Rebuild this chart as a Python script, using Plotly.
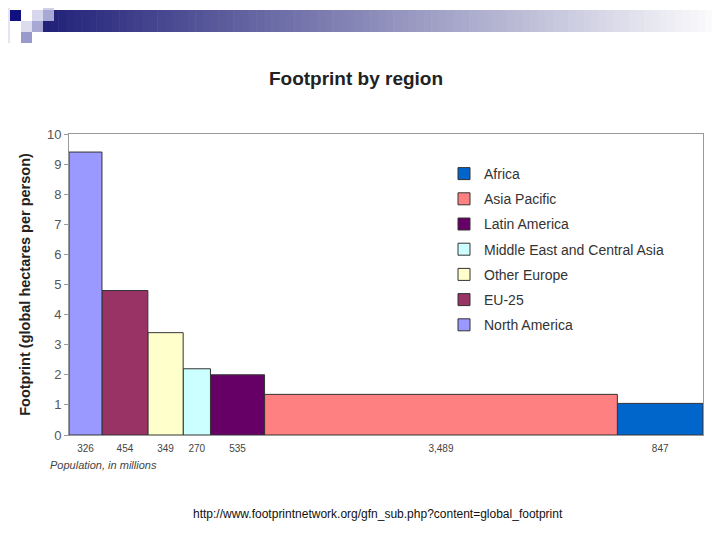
import plotly.graph_objects as go

# data
regions = ["North America", "EU-25", "Other Europe", "Middle East and Central Asia",
           "Latin America", "Asia Pacific", "Africa"]
population = [326, 454, 349, 270, 535, 3489, 847]   # millions
footprint = [9.4, 4.8, 3.4, 2.2, 2.0, 1.35, 1.05]  # global hectares per person
colors = ["#9999ff", "#993366", "#ffffcc", "#ccffff", "#660066", "#ff8080", "#0066cc"]

# the page body has an 8px margin, so the figure sits 8px right/down
OFF = 8

# bar centres from the cumulative population
centers = []
left = 0
for p in population:
    centers.append(left + p / 2)
    left += p
total = left

fig = go.Figure()
# added in reverse so the legend lists Africa first
for name, c, w, h, col in reversed(list(zip(regions, centers, population, footprint, colors))):
    fig.add_trace(go.Bar(
        x=[c], y=[h], width=[w], name=name, legendgroup=name,
        marker=dict(color=col, line=dict(color="#333333", width=1)),
    ))

fig.update_layout(
    width=720, height=540,
    margin=dict(l=69 - OFF, r=720 - 703 + OFF, t=134 - OFF, b=540 - 435 + OFF),
    paper_bgcolor="white", plot_bgcolor="white",
    font=dict(family="Liberation Sans, Arial, sans-serif", color="#333333"),
    title=dict(text="<b>Footprint by region</b>", x=(356 - OFF) / 720, xanchor="center",
               y=1 - (78 - OFF) / 540, yanchor="middle", yref="container",
               font=dict(size=19, color="#222222")),
    showlegend=True,
    legend=dict(x=(444 - 69) / 634, y=(435 - 158) / 301, xanchor="left", yanchor="top",
                traceorder="grouped", tracegroupgap=4,
                font=dict(size=14, color="#333333"), bgcolor="rgba(0,0,0,0)"),
    barmode="overlay",
)
fig.update_xaxes(
    range=[0, total], tickmode="array", tickvals=centers,
    ticktext=[f"{p:,}" for p in population], ticks="outside", ticklen=4,
    tickcolor="rgba(0,0,0,0)",
    tickfont=dict(size=10, color="#444444"),
    showline=True, linecolor="#999999", mirror=True, showgrid=False, zeroline=False,
)
fig.update_yaxes(
    range=[0, 10], dtick=1, ticks="outside", ticklen=4, tickcolor="#999999",
    tickfont=dict(size=13, color="#555555"),
    showline=True, linecolor="#999999", mirror=True, showgrid=False, zeroline=False,
    title=dict(text="<b>Footprint (global hectares per person)</b>",
               font=dict(size=14.5, color="#222222"), standoff=12),
)


def px_rect(xa, ya, xb, yb, color):
    # page pixel box -> paper coordinates of the plot area
    fig.add_shape(type="rect", xref="paper", yref="paper",
                  x0=(xa - 69) / 634, x1=(xb - 69) / 634,
                  y0=(435 - yb) / 301, y1=(435 - ya) / 301,
                  line_width=0, fillcolor=color)


# header banner: gradient strip plus small squares
steps = 90
for i in range(steps):
    t = i / (steps - 1)
    r = int(0x22 + (255 - 0x22) * t)
    g = int(0x22 + (255 - 0x22) * t)
    b = int(0x7a + (255 - 0x7a) * t)
    xa = 43 + (728 - 43) * i / steps
    xb = 43 + (728 - 43) * (i + 1) / steps + 0.6
    px_rect(xa, 10, xb, 32, f"rgb({r},{g},{b})")

px_rect(0, 0, 10, 43, "#e4e4f2")
px_rect(43, 0, 54, 10, "#d0d0ea")
px_rect(10, 10, 21, 21, "#10107f")
px_rect(32, 10, 43, 21, "#d6d6ec")
px_rect(43, 10, 54, 21, "#a8a8d4")
px_rect(21, 21, 32, 32, "#dcdcee")
px_rect(32, 21, 43, 32, "#a8a8d4")
px_rect(21, 32, 32, 43, "#9999cc")

fig.add_annotation(text="<i>Population, in millions</i>", xref="paper", yref="paper",
                   x=(48 - 69) / 634, y=(435 - 465) / 301, xanchor="left", yanchor="middle",
                   showarrow=False, font=dict(size=11, color="#444444"))
fig.add_annotation(text="http://www.footprintnetwork.org/gfn_sub.php?content=global_footprint",
                   xref="paper", yref="paper", x=(378 - 69) / 634, y=(435 - 514) / 301,
                   xanchor="center", yanchor="middle", showarrow=False,
                   font=dict(size=12, color="#111111"))

fig.write_html("out.html")
